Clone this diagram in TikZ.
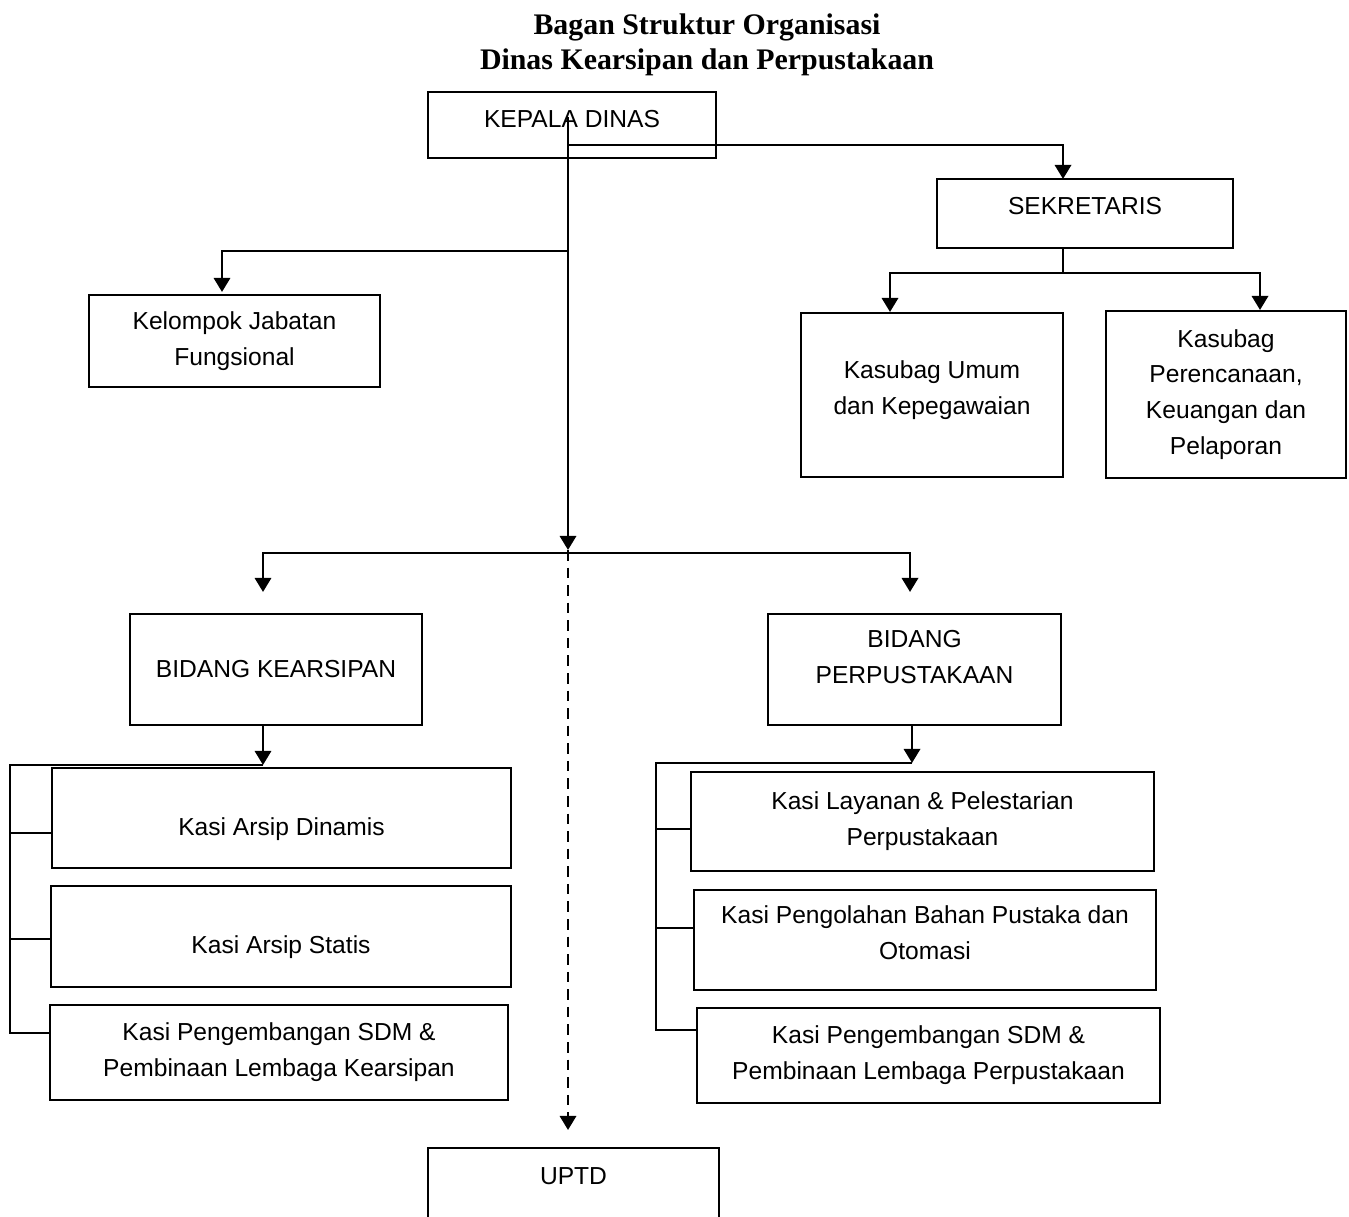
\documentclass[tikz,border=0pt]{standalone}
\usepackage{fontspec}
\setmainfont{Liberation Sans}
\newfontfamily\titlefont{Liberation Serif}
\usetikzlibrary{arrows.meta,positioning}

\begin{document}
\begin{tikzpicture}[
    font=\fontsize{7.0}{10.2}\selectfont,
    box/.style={draw, line width=0.8pt, align=center, inner sep=2pt},
    lift/.style={text depth=#1},
    drop/.style={text height=#1},
    arrow/.style={-{Triangle[length=4pt,width=4.6pt]}, line width=0.8pt},
    link/.style={line width=0.8pt}
  ]
    \useasboundingbox (0,0) rectangle (13.49,-12.16);

    \node[font=\titlefont\fontsize{8.5}{9.9}\selectfont\bfseries, align=center] (title) at (7.07,-0.445)
      {Bagan Struktur Organisasi\\Dinas Kearsipan dan Perpustakaan};

    \node[box, lift=0.13cm, minimum width=2.88cm, minimum height=0.66cm] (kadis) at (5.72,-1.25) {KEPALA DINAS};
    \node[box, lift=0.15cm, minimum width=2.96cm, minimum height=0.69cm] (sekr) at (10.85,-2.135) {SEKRETARIS};
    \node[box, lift=0.14cm, minimum width=2.62cm, minimum height=1.64cm] (umum) at (9.32,-3.95) {Kasubag Umum\\dan Kepegawaian};
    \node[box, minimum width=2.40cm, minimum height=1.67cm] (renc) at (12.26,-3.945) {Kasubag\\Perencanaan,\\Keuangan dan\\Pelaporan};
    \node[box, minimum width=2.91cm, minimum height=0.92cm] (jafung) at (2.345,-3.41) {Kelompok Jabatan\\Fungsional};

    \node[box, minimum width=2.92cm, minimum height=1.11cm] (bkear) at (2.76,-6.695) {BIDANG KEARSIPAN};
    \node[box, lift=0.25cm, minimum width=2.93cm, minimum height=1.11cm] (bpus) at (9.145,-6.695) {BIDANG\\PERPUSTAKAAN};

    \node[box, drop=0.40cm, minimum width=4.59cm, minimum height=1.00cm] (dinamis) at (2.815,-8.18) {Kasi Arsip Dinamis};
    \node[box, drop=0.40cm, minimum width=4.60cm, minimum height=1.01cm] (statis) at (2.81,-9.365) {Kasi Arsip Statis};
    \node[box, minimum width=4.58cm, minimum height=0.95cm] (sdmkear) at (2.79,-10.525) {Kasi Pengembangan SDM \&\\Pembinaan Lembaga Kearsipan};

    \node[box, minimum width=4.63cm, minimum height=0.99cm] (layanan) at (9.225,-8.215) {Kasi Layanan \& Pelestarian\\Perpustakaan};
    \node[box, lift=0.15cm, minimum width=4.62cm, minimum height=1.00cm] (olah) at (9.25,-9.40) {Kasi Pengolahan Bahan Pustaka dan\\Otomasi};
    \node[box, minimum width=4.63cm, minimum height=0.95cm] (sdmpus) at (9.285,-10.555) {Kasi Pengembangan SDM \&\\Pembinaan Lembaga Perpustakaan};

    \node[box, lift=0.43cm, minimum width=2.91cm, minimum height=1.00cm] (uptd) at (5.735,-11.98) {UPTD};

    % titik cabang
    \coordinate (kd-top) at (5.68,-1.17);
    \coordinate (kd-sek) at (5.68,-1.45);
    \coordinate (sek-in) at (10.63,-1.79);
    \coordinate (kd-jf) at (5.68,-2.51);
    \coordinate (jf-in) at (2.22,-2.92);
    \coordinate (kd-bid) at (5.68,-5.50);
    \coordinate (sek-out) at (10.63,-2.48);
    \coordinate (sek-mid) at (10.63,-2.73);
    \coordinate (umum-in) at (8.90,-3.12);
    \coordinate (renc-in) at (12.60,-3.10);
    \coordinate (bid-mid) at (5.68,-5.53);
    \coordinate (bk-in) at (2.63,-5.92);
    \coordinate (bp-in) at (9.10,-5.92);
    \coordinate (uptd-in) at (5.68,-11.30);
    \coordinate (bk-out) at (2.63,-7.25);
    \coordinate (bk-mid) at (2.63,-7.65);
    \coordinate (bp-out) at (9.12,-7.25);
    \coordinate (bp-mid) at (9.12,-7.63);

    % kepala dinas
    \draw[arrow] (kd-top) -- (kd-bid);
    \draw[arrow] (kd-sek) -| (sek-in);
    \draw[arrow] (kd-jf) -| (jf-in);
    \draw[arrow, dash pattern=on 3pt off 2pt] (kd-bid) -- (uptd-in);

    % sekretariat
    \draw[link] (sek-out) -- (sek-mid);
    \draw[arrow] (sek-mid) -| (umum-in);
    \draw[arrow] (sek-mid) -| (renc-in);

    % bidang
    \draw[arrow] (bid-mid) -| (bk-in);
    \draw[arrow] (bid-mid) -| (bp-in);

    % seksi kearsipan
    \draw[arrow] (bk-out) -- (bk-mid);
    \draw[link] (bk-mid) -- (0.10,-7.65) |- (sdmkear.west |- 0,-10.33);
    \draw[link] (0.10,-8.33) -- (dinamis.west |- 0,-8.33);
    \draw[link] (0.10,-9.39) -- (statis.west |- 0,-9.39);

    % seksi perpustakaan
    \draw[arrow] (bp-out) -- (bp-mid);
    \draw[link] (bp-mid) -- (6.56,-7.63) |- (sdmpus.west |- 0,-10.30);
    \draw[link] (6.56,-8.29) -- (layanan.west |- 0,-8.29);
    \draw[link] (6.56,-9.28) -- (olah.west |- 0,-9.28);
  \end{tikzpicture}
\end{document}
